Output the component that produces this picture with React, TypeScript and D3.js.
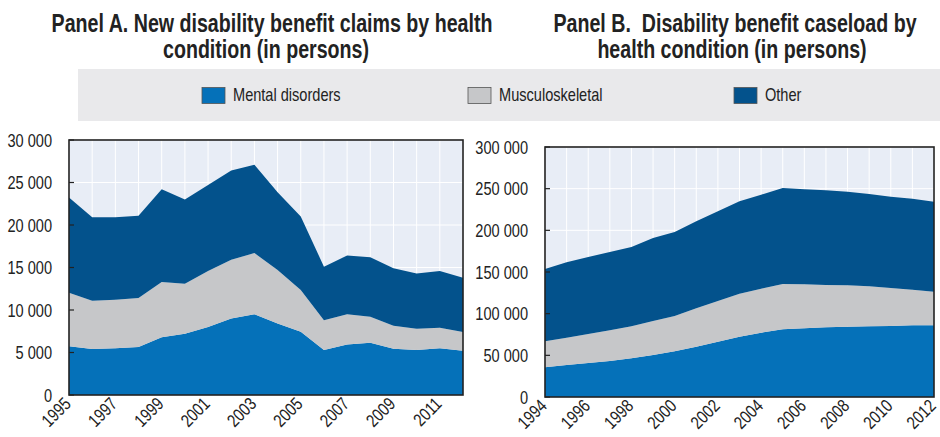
import React from "react";
import * as d3 from "d3";

const yearsA = d3.range(1995, 2013);
const mentalA = [5750, 5400, 5500, 5650, 6800, 7200, 8000, 9000, 9500, 8400, 7450, 5300, 5950, 6150, 5450, 5300, 5500, 5200];
const muscCumA = [12040, 11100, 11200, 11400, 13300, 13100, 14600, 15900, 16700, 14700, 12350, 8800, 9500, 9200, 8150, 7800, 7900, 7400];
const totalA = [23250, 20900, 20900, 21100, 24200, 23000, 24700, 26400, 27100, 23850, 21000, 15100, 16400, 16200, 14900, 14300, 14600, 13800];

const yearsB = d3.range(1994, 2013);
const mentalB = [35600, 38400, 40800, 43200, 46400, 50400, 54800, 60400, 66400, 72400, 77200, 81200, 82400, 83600, 84400, 84800, 85200, 86000, 86000];
const muscCumB = [66800, 71200, 75600, 80000, 84800, 91200, 97200, 106400, 115200, 124000, 130000, 135600, 135200, 134400, 134000, 132800, 130800, 128800, 126400];
const totalB = [153600, 161600, 168000, 174000, 180000, 190800, 198000, 210800, 222800, 234800, 242800, 250800, 249200, 248000, 246400, 243600, 240400, 238000, 234400];

const seriesNames = ["Mental disorders", "Musculoskeletal", "Other"];
const colors = ["#0571b9", "#c6c7c9", "#03528c"];

const ticksA = [0, 5000, 10000, 15000, 20000, 25000, 30000];
const ticksB = [0, 50000, 100000, 150000, 200000, 250000, 300000];

const titleA = ["Panel A. New disability benefit claims by health", "condition (in persons)"];
const titleB = ["Panel B.  Disability benefit caseload by", "health condition (in persons)"];

const FONT = "'Liberation Sans', Arial, Helvetica, sans-serif";
const SX = 0.81;
const fmt = (v: number) => String(v).replace(/\B(?=(\d{3})+(?!\d))/g, " ");

function NText(props: { x: number; y: number; anchor?: string; size?: number; rotate?: number; bold?: boolean; sx?: number; children: any }) {
  const { x, y, anchor = "start", size = 18, rotate = 0, bold = false, sx = SX, children } = props;
  return (
    <g transform={`translate(${x},${y}) rotate(${rotate}) scale(${sx},1)`}>
      <text
        x={0}
        y={0}
        textAnchor={anchor}
        fontSize={size}
        fontWeight={bold ? "bold" : "normal"}
        fill="#222"
        fontFamily={FONT}
        style={{ whiteSpace: "pre" }}
      >
        {children}
      </text>
    </g>
  );
}

type PanelProps = {
  years: number[];
  layers: number[][];
  ticks: number[];
  x0: number; x1: number; y0: number; y1: number;
  labelStep: number;
};

function Panel({ years, layers, ticks, x0, x1, y0, y1, labelStep }: PanelProps) {
  const x = d3.scaleLinear().domain([years[0], years[years.length - 1]]).range([x0, x1]);
  const y = d3.scaleLinear().domain([0, ticks[ticks.length - 1]]).range([y1, y0]);
  const bottoms = [years.map(() => 0), layers[0], layers[1]];
  const paths = layers.map((top, i) => {
    const area = d3.area<number>()
      .x((_, j) => x(years[j]))
      .y0((_, j) => y(bottoms[i][j]))
      .y1((_, j) => y(top[j]));
    return area(top) || "";
  });
  return (
    <g>
      <rect x={x0} y={y0} width={x1 - x0} height={y1 - y0} fill="#e8edf6" />
      {years.map((yr) => (
        <line key={"v" + yr} x1={x(yr)} x2={x(yr)} y1={y0} y2={y1} stroke="#fff" strokeWidth={1} />
      ))}
      {ticks.map((t) => (
        <line key={"h" + t} x1={x0} x2={x1} y1={y(t)} y2={y(t)} stroke="#fff" strokeWidth={1} />
      ))}
      {paths.map((p, i) => (
        <path key={i} d={p} fill={colors[i]} />
      ))}
      {ticks.map((t) => (
        <line key={"tk" + t} x1={x0} x2={x0 + 5} y1={y(t)} y2={y(t)} stroke="#222" strokeWidth={1.2} />
      ))}
      <rect x={x0} y={y0} width={x1 - x0} height={y1 - y0} fill="none" stroke="#222" strokeWidth={1.6} />
      {ticks.map((t) => (
        <NText key={"yl" + t} x={x0 - 17} y={y(t) + 6.5} anchor="end">
          {fmt(t)}
        </NText>
      ))}
      {years.filter((_, i) => i % labelStep === 0).map((yr) => (
        <NText key={"xl" + yr} x={x(yr) + 3} y={y1 + 10} anchor="end" rotate={-45}>
          {yr}
        </NText>
      ))}
    </g>
  );
}

function Title({ lines, cx }: { lines: string[]; cx: number[] }) {
  return (
    <g>
      {lines.map((l, i) => (
        <NText key={i} x={cx[i]} y={32 + i * 26} anchor="middle" size={25} bold sx={0.785}>
          {l}
        </NText>
      ))}
    </g>
  );
}

export default function App() {
  return (
    <svg width={940} height={437} style={{ display: "block", position: "absolute", left: 0, top: 0 }}>
      <rect width={940} height={437} fill="#fff" />
      <Title lines={titleA} cx={[272, 266]} />
      <Title lines={titleB} cx={[735, 732]} />
      <rect x={78} y={69} width={862} height={52} fill="#e9e9eb" />
      {seriesNames.map((n, i) => {
        const lx = [202, 468, 734][i];
        return (
          <g key={n}>
            <rect x={lx} y={87.5} width={23} height={16} fill={colors[i]} stroke="#555" strokeWidth={0.8} />
            <NText x={lx + 31} y={101}>{n}</NText>
          </g>
        );
      })}
      <Panel years={yearsA} layers={[mentalA, muscCumA, totalA]} ticks={ticksA} x0={69} x1={463} y0={140} y1={395} labelStep={2} />
      <Panel years={yearsB} layers={[mentalB, muscCumB, totalB]} ticks={ticksB} x0={545} x1={934} y0={147} y1={397} labelStep={2} />
    </svg>
  );
}
